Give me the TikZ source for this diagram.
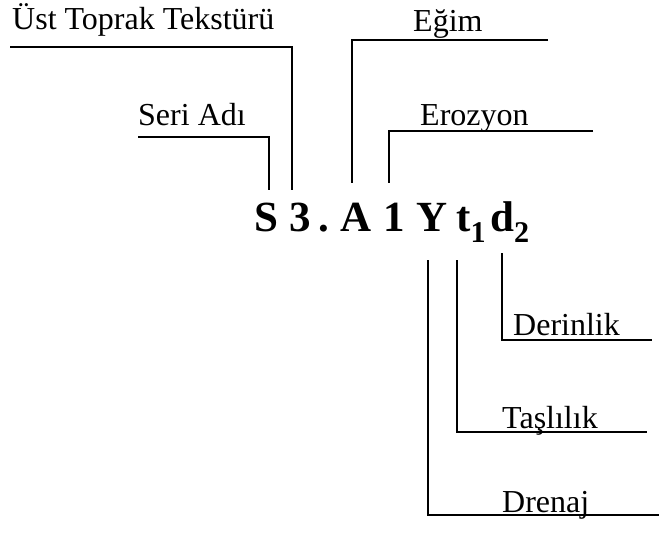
\documentclass[tikz,border=0pt]{standalone}
\usepackage{fontspec}
\setmainfont{Liberation Serif}
\begin{document}
\begin{tikzpicture}[x=1pt,y=-1pt,
    lbl/.style={inner sep=0pt,anchor=base west,font=\fontsize{32}{38}\selectfont},
    sym/.style={inner sep=0pt,anchor=base,text height=29pt,text depth=0pt,
                font=\fontsize{43}{50}\selectfont\bfseries},
    arm/.style={black,line width=1.6pt}]
    \useasboundingbox (0,0) rectangle (659,533);
    % symbol row
    \node [sym] (S) at (266.5,231) {S};
    \node [sym] (three) at (300,231) {3};
    \node [sym] (dot) at (324,231) {.};
    \node [sym] (A) at (356,231) {A};
    \node [sym] (one) at (394,231) {1};
    \node [sym] (Y) at (432,231) {Y};
    \node [sym,anchor=base west] (t1) at (456,231) {t\textsubscript{1}};
    \node [sym,anchor=base west] (d2) at (490,231) {d\textsubscript{2}};
    % labels
    \node [lbl] (ust) at (12,29) {Üst Toprak Tekstürü};
    \node [lbl] (seri) at (138,125) {Seri Adı};
    \node [lbl] (egim) at (413,31) {Eğim};
    \node [lbl] (eroz) at (420,125) {Erozyon};
    \node [lbl] (derin) at (513,335) {Derinlik};
    \node [lbl] (tasl) at (502,428) {Taşlılık};
    \node [lbl] (dren) at (502,512) {Drenaj};
    % free ends
    \coordinate (ustEnd) at (10,47);
    \coordinate (seriEnd) at (138,137);
    \coordinate (egimEnd) at (548,40);
    \coordinate (erozEnd) at (593,131);
    \coordinate (derinEnd) at (652,340);
    \coordinate (taslEnd) at (647,432);
    \coordinate (drenEnd) at (659,515);
    % connectors
    \draw [arm] (ustEnd) -| ([xshift=-8pt,yshift=12pt]three.north);
    \draw [arm] (seriEnd) -| ([xshift=2.5pt,yshift=12pt]S.north);
    \draw [arm] (egimEnd) -| ([xshift=-4pt,yshift=19pt]A.north);
    \draw [arm] (erozEnd) -| ([xshift=-5pt,yshift=19pt]one.north);
    \draw [arm] ([xshift=-4pt,yshift=-29pt]Y.south) |- (drenEnd);
    \draw [arm] ([xshift=1pt,yshift=-29pt]t1.south west) |- (taslEnd);
    \draw [arm] ([xshift=12pt,yshift=-22pt]d2.south west) |- (derinEnd);
\end{tikzpicture}
\end{document}
